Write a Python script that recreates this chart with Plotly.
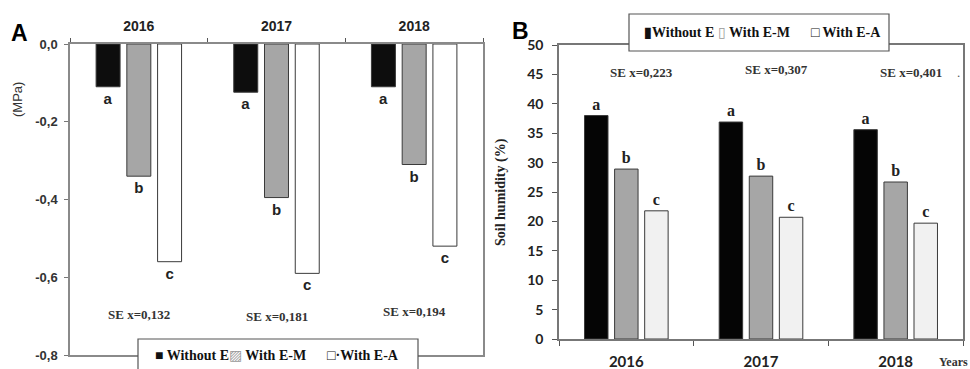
import plotly.graph_objects as go

# ---------------- data ----------------
years = ["2016", "2017", "2018"]
series_names = ["Without E", "With E-M", "With E-A"]

# Panel A: soil water potential (MPa)
mpa_without_e = [-0.11, -0.124, -0.11]
mpa_with_em = [-0.34, -0.395, -0.31]
mpa_with_ea = [-0.56, -0.59, -0.52]
mpa_se_labels = ["SE x=0,132", "SE x=0,181", "SE x=0,194"]
mpa_se_y = [-0.697, -0.70, -0.687]
mpa_tickvals = [0.0, -0.2, -0.4, -0.6, -0.8]
mpa_ticktext = ["0,0", "-0,2", "-0,4", "-0,6", "-0,8"]

# Panel B: soil humidity (%)
hum_without_e = [38.0, 36.9, 35.6]
hum_with_em = [28.9, 27.7, 26.7]
hum_with_ea = [21.8, 20.7, 19.7]
hum_se_labels = ["SE x=0,223", "SE x=0,307", "SE x=0,401"]
hum_se_y = [45.4, 45.8, 45.3]
hum_tickvals = [0, 5, 10, 15, 20, 25, 30, 35, 40, 45, 50]

letters_without_e = ["a", "a", "a"]
letters_with_em = ["b", "b", "b"]
letters_with_ea = ["c", "c", "c"]

# ---------------- styles ----------------
colors_a = ["#0d0d0d", "#a6a6a6", "#ffffff"]
colors_b = ["#050505", "#a6a6a6", "#f1f1f1"]
SANS = "Liberation Sans, Arial, sans-serif"
SERIF = "Liberation Serif, Times New Roman, serif"
CAL = "Lato, Open Sans, sans-serif"

fig = go.Figure()

series_a = [mpa_without_e, mpa_with_em, mpa_with_ea]
series_b = [hum_without_e, hum_with_em, hum_with_ea]
letters = [letters_without_e, letters_with_em, letters_with_ea]

for i, name in enumerate(series_names):
    fig.add_trace(go.Bar(
        x=years, y=series_a[i], name=name, showlegend=False,
        marker=dict(color=colors_a[i], line=dict(color="#3a3a3a", width=1)),
        text=letters[i], textposition="outside",
        textfont=dict(family=SANS, size=15, color="#222", weight="bold"),
        cliponaxis=False, xaxis="x", yaxis="y",
    ))
for i, name in enumerate(series_names):
    fig.add_trace(go.Bar(
        x=years, y=series_b[i], name=name, showlegend=False,
        marker=dict(color=colors_b[i], line=dict(color="#3a3a3a", width=1)),
        text=letters[i], textposition="outside",
        textfont=dict(family=SERIF, size=16, color="#222", weight="bold"),
        cliponaxis=False, xaxis="x2", yaxis="y2",
    ))

W, H = 970, 369
def px(x):
    return x / W
def py(y):
    return (H - y) / H

def note(x, y, text, font, **kw):
    d = dict(x=px(x), y=py(y), xref="paper", yref="paper", text=text, showarrow=False,
             xanchor="center", yanchor="middle", font=font)
    d.update(kw)
    return d

annotations = []
# SE labels panel A (category index positions)
for idx, (lab, yv) in enumerate(zip(mpa_se_labels, mpa_se_y)):
    annotations.append(dict(x=idx, y=yv, xref="x", yref="y", text=lab, showarrow=False,
                            xanchor="center", yanchor="middle",
                            font=dict(family=SERIF, size=13, color="#333", weight="bold")))
# SE labels panel B
for idx, (lab, yv) in enumerate(zip(hum_se_labels, hum_se_y)):
    annotations.append(dict(x=idx, y=yv, xref="x2", yref="y2", text=lab, showarrow=False,
                            xanchor="center", yanchor="middle", xshift=15,
                            font=dict(family=SERIF, size=13, color="#333", weight="bold")))
annotations.append(note(958, 73, ".", dict(family=SERIF, size=13, color="#555")))

# panel letters
annotations.append(note(19, 33, "<b>A</b>", dict(family=SANS, size=23, color="#000")))
annotations.append(note(520, 31, "<b>B</b>", dict(family=SANS, size=23, color="#000")))
# y titles
annotations.append(note(17, 100, "(MPa)", dict(family=SANS, size=13, color="#333"), textangle=-90))
annotations.append(note(501, 192, "<b>Soil humidity (%)</b>", dict(family=SERIF, size=14, color="#222"),
                        textangle=-90))
# Years label
annotations.append(note(937, 362, "<b>Years</b>", dict(family=SERIF, size=12, color="#333"),
                        xanchor="left"))

# legend A (box + text)
annotations.append(note(277, 355,
                        "<b>■ " + series_names[0] + "</b><span style='color:#999'>▨</span><b> "
                        + series_names[1] + "      □·" + series_names[2] + "</b>",
                        dict(family=SERIF, size=14, color="#111")))
# legend B
annotations.append(note(762, 32,
                        "<b>▮" + series_names[0] + " </b><span style='color:#999'>▯</span><b> "
                        + series_names[1] + "      □ " + series_names[2] + "</b>",
                        dict(family=SERIF, size=14, color="#111")))

shapes = [
    dict(type="rect", xref="paper", yref="paper", x0=px(138), x1=px(418), y0=-0.05, y1=py(339),
         fillcolor="white", line=dict(color="#555", width=1.2), layer="above"),
    dict(type="rect", xref="paper", yref="paper", x0=px(629), x1=px(889), y0=py(51), y1=py(14),
         fillcolor="white", line=dict(color="#555", width=1.2), layer="above"),
]

fig.update_layout(
    width=W, height=H,
    template="none",
    margin=dict(l=0, r=0, t=0, b=0, autoexpand=False),
    paper_bgcolor="white", plot_bgcolor="white",
    barmode="group", bargap=0.33, bargroupgap=0.22,
    showlegend=False,
    annotations=annotations, shapes=shapes,
    xaxis=dict(domain=[px(70), px(483)], anchor="y", type="category", side="top",
               range=[-0.5, 2.5], automargin=False,
               showline=True, linecolor="#8a8a8a", linewidth=1.5, mirror=True,
               ticks="outside", tickson="boundaries", ticklen=4, tickcolor="#555",
               ticklabelstandoff=6,
               tickfont=dict(family=SANS, size=14, color="#222", weight="bold"),
               tickangle=0, showgrid=False),
    yaxis=dict(domain=[py(355), py(44)], anchor="x", range=[-0.8, 0], automargin=False,
               tickvals=mpa_tickvals, ticktext=mpa_ticktext,
               showline=True, linecolor="#8a8a8a", linewidth=1.5, mirror=True,
               ticks="outside", ticklen=4, tickcolor="#777",
               ticklabelstandoff=4,
               tickfont=dict(family=SANS, size=13, color="#333", weight="bold"),
               showgrid=False, zeroline=False),
    xaxis2=dict(domain=[px(559), px(963)], anchor="y2", type="category", side="bottom",
                range=[-0.5, 2.5], automargin=False,
                showline=True, linecolor="#777", linewidth=1.5, mirror=True,
                ticks="outside", tickson="boundaries", ticklen=5, tickcolor="#555",
                ticklabelstandoff=8,
                tickfont=dict(family=CAL, size=15, color="#222", weight="bold"),
                tickangle=0, showgrid=False),
    yaxis2=dict(domain=[py(339), py(45)], anchor="x2", range=[0, 50], automargin=False,
                tickvals=hum_tickvals,
                showline=True, linecolor="#777", linewidth=1.5, mirror=True,
                ticks="outside", ticklen=5, tickcolor="#555",
                ticklabelstandoff=6,
                tickfont=dict(family=CAL, size=14, color="#222", weight="bold"),
                showgrid=False, zeroline=False),
)

fig.write_html("out.html",
               config={"displayModeBar": False},
               post_script="document.body.style.margin='0';document.body.style.padding='0';")
